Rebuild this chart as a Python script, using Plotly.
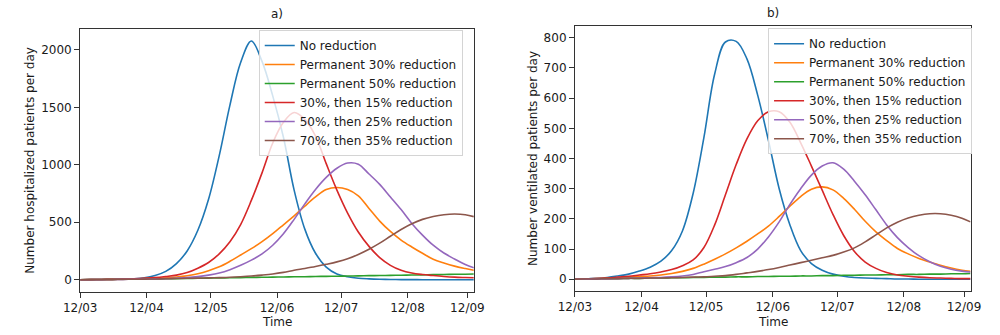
import plotly.graph_objects as go

# Day index since the start of the simulation (12/03)
days = [0, 5, 10, 15, 20, 25, 30, 35, 40, 45, 50, 55, 60, 65, 70, 75, 80, 85, 90,
        95, 100, 105, 110, 115, 120, 125, 130, 135, 140, 145, 150, 155, 160, 165,
        170, 175, 180, 184]

tick_days = [0, 31, 61, 92, 122, 153, 181]
tick_labels = ["12/03", "12/04", "12/05", "12/06", "12/07", "12/08", "12/09"]

scenarios = ["No reduction", "Permanent 30% reduction", "Permanent 50% reduction",
             "30%, then 15% reduction", "50%, then 25% reduction", "70%, then 35% reduction"]
colors = ["#1f77b4", "#ff7f0e", "#2ca02c", "#d62728", "#9467bd", "#8c564b"]

# a) hospitalized patients per day
hosp_none = [0, 1, 2, 3, 5, 8, 16, 36, 72, 140, 250, 430, 700, 1080, 1520, 1890, 2078, 1900, 1600,
             1240, 780, 440, 230, 110, 50, 25, 12, 7, 4, 2, 1, 1, 0, 0, 0, 0, 0, 0]
hosp_perm30 = [0, 1, 2, 3, 5, 7, 10, 13, 17, 24, 35, 52, 78, 112, 160, 215, 270, 332, 402,
               478, 555, 640, 720, 785, 803, 785, 730, 620, 510, 420, 345, 285, 230, 178,
               145, 118, 97, 82]
hosp_perm50 = [0, 1, 2, 3, 4, 5, 6, 7, 8, 9, 11, 12, 14, 15, 17, 18, 20, 21, 22, 24, 25, 26,
               28, 29, 30, 32, 33, 35, 36, 38, 39, 41, 42, 44, 45, 47, 48, 49]
hosp_30_15 = [0, 1, 2, 3, 5, 8, 12, 18, 28, 40, 62, 100, 150, 225, 330, 480, 690, 930, 1190,
              1370, 1455, 1395, 1250, 1010, 780, 580, 415, 290, 192, 125, 82, 58, 45, 36, 28,
              22, 19, 17]
hosp_50_25 = [0, 1, 1, 2, 3, 4, 5, 7, 9, 13, 18, 27, 40, 58, 87, 125, 170, 225, 300, 400,
              525, 660, 785, 890, 970, 1015, 1005, 920, 830, 720, 610, 490, 388, 300, 232,
              180, 132, 104]
hosp_70_35 = [0, 1, 1, 2, 3, 4, 5, 6, 8, 10, 12, 14, 16, 18, 21, 26, 32, 40, 50, 64, 82, 98,
              115, 134, 155, 182, 220, 265, 318, 378, 437, 487, 525, 550, 566, 572, 566, 549]

# b) ventilated patients per day
vent_none = [0, 1, 3, 6, 11, 17, 27, 40, 60, 95, 160, 285, 470, 680, 786, 788, 730, 610, 460,
             300, 180, 95, 52, 30, 17, 10, 6, 4, 3, 2, 1, 1, 0, 0, 0, 0, 0, 0]
vent_perm30 = [0, 1, 2, 3, 5, 7, 9, 11, 14, 19, 26, 36, 50, 66, 84, 104, 126, 150, 176, 208,
               242, 274, 298, 306, 296, 268, 232, 192, 157, 128, 102, 84, 69, 57, 46, 37, 30, 26]
vent_perm50 = [0, 1, 1, 2, 2, 3, 3, 4, 4, 5, 5, 6, 6, 7, 7, 8, 8, 9, 9, 10, 10, 11, 11, 12, 12,
               13, 13, 14, 14, 15, 15, 16, 16, 17, 17, 18, 18, 19]
vent_30_15 = [0, 1, 2, 4, 7, 10, 14, 18, 24, 32, 45, 64, 105, 180, 280, 380, 465, 525, 555, 555,
              520, 452, 375, 295, 215, 145, 92, 57, 36, 22, 14, 10, 7, 5, 4, 3, 2, 2]
vent_50_25 = [0, 0, 1, 1, 2, 3, 4, 5, 6, 8, 11, 16, 25, 33, 42, 55, 72, 100, 140, 190, 248,
              300, 345, 375, 386, 365, 325, 280, 230, 180, 138, 105, 78, 58, 43, 33, 27, 24]
vent_70_35 = [0, 1, 1, 2, 2, 3, 3, 4, 4, 5, 6, 7, 8, 10, 12, 16, 21, 26, 32, 39, 47, 55, 63,
              71, 79, 90, 104, 124, 147, 170, 189, 203, 212, 217, 217, 212, 202, 190]

hosp_series = [hosp_none, hosp_perm30, hosp_perm50, hosp_30_15, hosp_50_25, hosp_70_35]
vent_series = [vent_none, vent_perm30, vent_perm50, vent_30_15, vent_50_25, vent_70_35]

FONT = "DejaVu Sans"
TEXT = "#1a1a1a"

fig = go.Figure()
for name, color, ys in zip(scenarios, colors, hosp_series):
    fig.add_trace(go.Scatter(x=days, y=ys, mode="lines", name=name,
                             line=dict(color=color, width=1.6, shape="spline", smoothing=1.0),
                             xaxis="x", yaxis="y", legend="legend"))
for name, color, ys in zip(scenarios, colors, vent_series):
    fig.add_trace(go.Scatter(x=days, y=ys, mode="lines", name=name,
                             line=dict(color=color, width=1.6, shape="spline", smoothing=1.0),
                             xaxis="x2", yaxis="y2", legend="legend2"))

axis_common = dict(showline=True, mirror=True, linecolor="#333", linewidth=1,
                   ticks="outside", ticklen=5, tickcolor="#333", showgrid=False,
                   zeroline=False, tickfont=dict(family=FONT, size=12, color=TEXT))

legend_common = dict(font=dict(family=FONT, size=12, color=TEXT),
                     bgcolor="rgba(255,255,255,0.8)", bordercolor="#d4d4d4", borderwidth=1,
                     xanchor="left", yanchor="top", itemwidth=30, tracegroupgap=0)

fig.update_layout(
    width=1000, height=335,
    margin=dict(l=0, r=0, t=0, b=0),
    paper_bgcolor="white", plot_bgcolor="white",
    font=dict(family=FONT, size=12, color=TEXT),
    xaxis=dict(domain=[0.065, 0.470], range=[0, 184], tickvals=tick_days,
               ticktext=tick_labels, anchor="y", **axis_common),
    yaxis=dict(domain=[0.1284, 0.9134], range=[-107, 2182],
               tickvals=[0, 500, 1000, 1500, 2000], anchor="x", **axis_common),
    xaxis2=dict(domain=[0.574, 0.981], range=[0, 184], tickvals=tick_days,
                ticktext=tick_labels, anchor="y2", **axis_common),
    yaxis2=dict(domain=[0.1322, 0.9224], range=[-38, 839],
                tickvals=[0, 100, 200, 300, 400, 500, 600, 700, 800], anchor="x2",
                **axis_common),
    legend=dict(x=0.2487, y=0.9104, **legend_common),
    legend2=dict(x=0.7727, y=0.9155, **legend_common),
    showlegend=True,
)

annotations = [
    dict(text="a)", x=0.2675, y=0.958),
    dict(text="b)", x=0.7773, y=0.961),
    dict(text="Time", x=0.2675, y=0.0388),
    dict(text="Time", x=0.7777, y=0.0388),
    dict(text="Number hospitalized patients per day", x=0.014, y=0.522, textangle=-90),
    dict(text="Number ventilated patients per day", x=0.5307, y=0.528, textangle=-90),
]
for a in annotations:
    fig.add_annotation(xref="paper", yref="paper", showarrow=False,
                       xanchor="center", yanchor="middle",
                       font=dict(family=FONT, size=12, color=TEXT), **a)

fig.write_html("out.html")
